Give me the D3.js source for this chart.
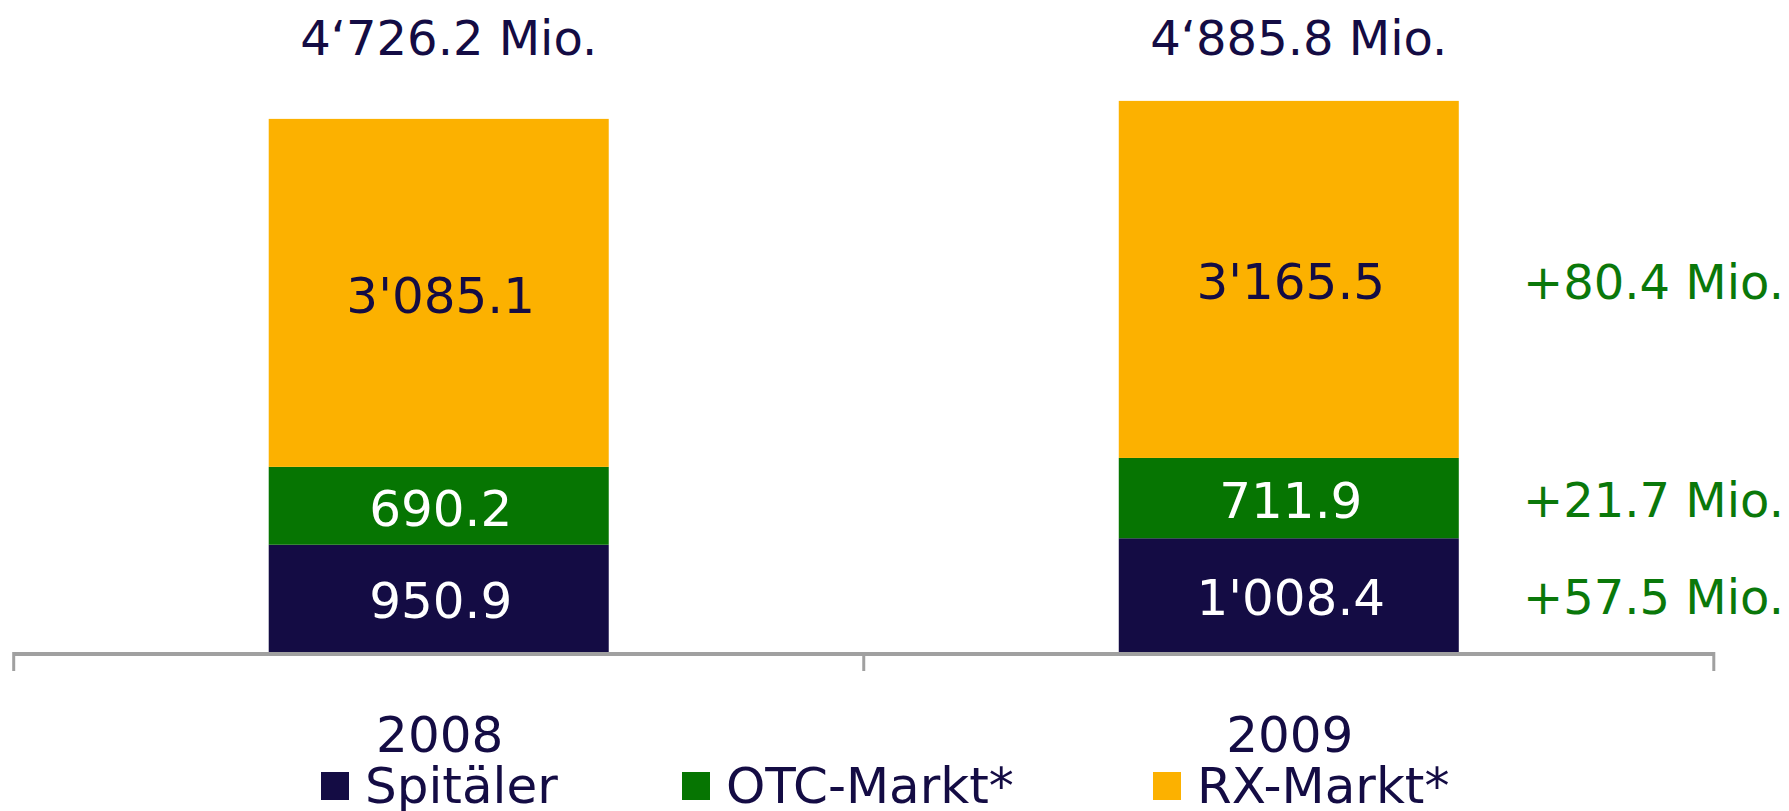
<!DOCTYPE html>
<html>
<head>
<meta charset="utf-8">
<script src="https://cdn.jsdelivr.net/npm/d3@7"></script>
<style>
  body { margin: 0; background: #fff; }
  svg text { font-family: "DejaVu Sans", Verdana, sans-serif; }
</style>
</head>
<body>
<svg id="chart"></svg>
<script>
// values
var years = ['2008', '2009'];
var seriesNames = ['Spitäler', 'OTC-Markt*', 'RX-Markt*'];
var spitaeler = [950.9, 1008.4];
var otcMarkt = [690.2, 711.9];
var rxMarkt = [3085.1, 3165.5];
var changes = [57.5, 21.7, 80.4]; // 2009 vs 2008, per series (bottom to top)

var colors = ['#140c44', '#067502', '#fcb100'];
var labelColors = ['#ffffff', '#ffffff', '#140c44'];
var navy = '#140c44';
var green = '#0a780a';

var W = 1789, H = 811;
var fontSize = 49;

var rows = years.map(function(y, i) {
    return { year: y, s0: spitaeler[i], s1: otcMarkt[i], s2: rxMarkt[i] };
});
var keys = ['s0', 's1', 's2'];
var stacked = d3.stack().keys(keys)(rows);

// apostrophe as thousands separator, like the slide
var fmtIn = d3.formatLocale({decimal: '.', thousands: "'", grouping: [3], currency: ['', '']}).format(',.1f');
var fmtTot = d3.formatLocale({decimal: '.', thousands: '\u2018', grouping: [3], currency: ['', '']}).format(',.1f');
var fmtChg = d3.format('+.1f');

var svg = d3.select('#chart').attr('width', W).attr('height', H);

var axisLeftX = 13.7, axisRightX = 1713.8;
var baseY = 652;

// full bands for the axis ticks, padded bands for the bars
var xAxisBand = d3.scaleBand().domain(years).range([axisLeftX, axisRightX]);
var x = d3.scaleBand().domain(years).range([axisLeftX, axisRightX])
        .paddingInner(0.6).paddingOuter(0.3);
var y = d3.scaleLinear().domain([0, 5000]).range([baseY, 88]);

// bars
var layer = svg.selectAll('g.layer')
        .data(stacked)
        .enter().append('g')
        .attr('class', 'layer')
        .attr('fill', function(d, i) { return colors[i]; });

layer.selectAll('rect')
        .data(function(d) { return d; })
        .enter().append('rect')
        .attr('x', function(d) { return x(d.data.year); })
        .attr('y', function(d) { return y(d[1]); })
        .attr('width', x.bandwidth())
        .attr('height', function(d) { return y(d[0]) - y(d[1]); });

// values inside the bars
svg.selectAll('g.vals')
        .data(stacked)
        .enter().append('g')
        .attr('class', 'vals')
        .attr('fill', function(d, i) { return labelColors[i]; })
        .selectAll('text')
        .data(function(d) { return d; })
        .enter().append('text')
        .attr('x', function(d) { return x(d.data.year) + x.bandwidth() / 2 + 2; })
        .attr('y', function(d) { return (y(d[0]) + y(d[1])) / 2; })
        .attr('dy', '0.4em')
        .attr('text-anchor', 'middle')
        .style('font-size', '50px')
        .text(function(d) { return fmtIn(d[1] - d[0]); });

// totals on top
svg.selectAll('text.total')
        .data(rows)
        .enter().append('text')
        .attr('class', 'total')
        .attr('x', function(d) { return x(d.year) + x.bandwidth() / 2 + 10; })
        .attr('y', 55)
        .attr('text-anchor', 'middle')
        .attr('fill', navy)
        .style('font-size', '48px')
        .text(function(d) { return fmtTot(d.s0 + d.s1 + d.s2) + ' Mio.'; });

// changes on the right, aligned to the 2009 segments
var last = years.length - 1;
svg.selectAll('text.change')
        .data(stacked)
        .enter().append('text')
        .attr('class', 'change')
        .attr('x', 1523)
        .attr('y', function(d) { return (y(d[last][0]) + y(d[last][1])) / 2; })
        .attr('dy', '0.4em')
        .attr('fill', green)
        .style('font-size', '48px')
        .text(function(d, i) { return fmtChg(changes[i]) + ' Mio.'; });

// category axis: line with ticks on the band edges
var tickXs = years.map(function(d) { return xAxisBand(d); }).concat([axisRightX]);
svg.append('line')
        .attr('x1', axisLeftX).attr('x2', axisRightX)
        .attr('y1', baseY + 2).attr('y2', baseY + 2)
        .attr('stroke', '#a0a0a0').attr('stroke-width', 4);
svg.selectAll('line.tick')
        .data(tickXs)
        .enter().append('line')
        .attr('class', 'tick')
        .attr('x1', function(d) { return d; }).attr('x2', function(d) { return d; })
        .attr('y1', baseY).attr('y2', 671)
        .attr('stroke', '#a0a0a0').attr('stroke-width', 3);

svg.selectAll('text.year')
        .data(years)
        .enter().append('text')
        .attr('class', 'year')
        .attr('x', function(d) { return x(d) + x.bandwidth() / 2 + 1; })
        .attr('y', 752)
        .attr('text-anchor', 'middle')
        .attr('fill', navy)
        .style('font-size', '50px')
        .text(function(d) { return d; });

// legend (item x positions as laid out on the slide)
var legendX = [321, 682, 1153];
var legend = svg.append('g').attr('class', 'legend');
legend.selectAll('g')
        .data(seriesNames)
        .enter().append('g')
        .attr('transform', function(d, i) { return 'translate(' + legendX[i] + ',0)'; })
        .each(function(name, i) {
            var item = d3.select(this);
            item.append('rect')
                .attr('x', 0).attr('y', 772)
                .attr('width', 28).attr('height', 28)
                .attr('fill', colors[i]);
            item.append('text')
                .attr('x', 44).attr('y', 803)
                .attr('fill', navy)
                .style('font-size', '50px')
                .text(name);
        });
</script>
</body>
</html>
